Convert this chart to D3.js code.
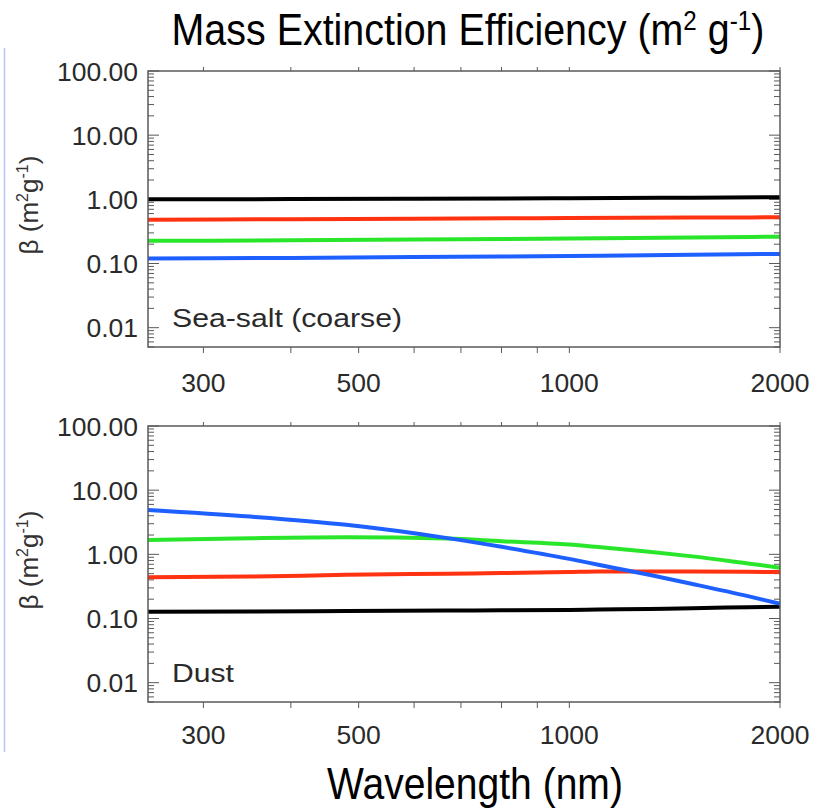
<!DOCTYPE html>
<html>
<head>
<meta charset="utf-8">
<script src="https://cdn.jsdelivr.net/npm/d3@7"></script>
<style>
  html, body { margin: 0; padding: 0; background: #fff; }
  svg { display: block; }
  text { font-family: Arial, "Liberation Sans", Helvetica, sans-serif; }
</style>
</head>
<body>
<svg id="chart" width="816" height="812"></svg>
<script>
// ---------------- data ----------------
const xTickValues = [300, 400, 500, 600, 700, 800, 900, 1000, 2000];
const xTickLabels = [300, 500, 1000, 2000];
const yTickLabels = [0.01, 0.1, 1, 10, 100];
const seriesColors = ["#000000", "#ff3311", "#2ae62a", "#1e60ff"];

// Sea-salt (coarse)
const seaSaltWl    = [250, 400, 600, 1000, 1500, 2000];
const seaSaltBlack = [1.00, 1.01, 1.02, 1.04, 1.06, 1.08];
const seaSaltRed   = [0.48, 0.49, 0.50, 0.51, 0.52, 0.525];
const seaSaltGreen = [0.226, 0.230, 0.237, 0.245, 0.255, 0.262];
const seaSaltBlue  = [0.120, 0.122, 0.126, 0.131, 0.137, 0.141];

// Dust
const dustWl    = [250, 350, 480, 670, 800, 1000, 1100, 1300, 1500, 1800, 2000];
const dustBlack = [0.128, 0.129, 0.131, 0.133, 0.134, 0.136, 0.138, 0.141, 0.145, 0.150, 0.153];
const dustRed   = [0.44, 0.45, 0.48, 0.50, 0.51, 0.53, 0.54, 0.54, 0.54, 0.535, 0.53];
const dustGreen = [1.67, 1.78, 1.84, 1.76, 1.60, 1.42, 1.30, 1.10, 0.93, 0.72, 0.62];
const dustBlue  = [4.91, 3.88, 2.89, 1.79, 1.31, 0.85, 0.69, 0.48, 0.345, 0.223, 0.17];

const panels = [
  { label: "Sea-salt (coarse)", labelW: 230, wl: seaSaltWl, series: [seaSaltBlack, seaSaltRed, seaSaltGreen, seaSaltBlue], top: 71, bottom: 347, tickDy: 45 },
  { label: "Dust", labelW: 62, wl: dustWl, series: [dustBlack, dustRed, dustGreen, dustBlue], top: 426, bottom: 702, tickDy: 42 }
];

// ---------------- drawing ----------------
const svg = d3.select("#chart");
const X0 = 148, X1 = 780;
const axisColor = "#5a5a5a";
const textColor = "#2a2a2a";

// helper: horizontally condensed/stretched text centred on cx
function fitText(parent, cx, cy, width, build) {
  const g = parent.append("g");
  const t = g.append("text").attr("x", 0).attr("y", 0);
  build(t);
  const w = t.node().getBBox().width;
  g.attr("transform", `translate(${cx - width / 2},${cy}) scale(${width / w},1)`);
  return g;
}

// left decorative slide border
svg.append("line").attr("x1", 4.5).attr("x2", 4.5).attr("y1", 48).attr("y2", 752)
  .attr("stroke", "#b8c4ff").attr("stroke-width", 1.5);

const x = d3.scaleLog().domain([250, 2000]).range([X0, X1]);

panels.forEach(p => {
  const y = d3.scaleLog().domain([0.005, 100]).range([p.bottom, p.top]);
  const g = svg.append("g");

  // minor/major y ticks (inward, both sides)
  const yTicks = [];
  for (let e = -3; e <= 1; e++) {
    for (let m = 1; m <= 9; m++) {
      const v = m * Math.pow(10, e);
      if (v >= 0.005 - 1e-9 && v <= 100 + 1e-9) yTicks.push({ v, major: m === 1 });
    }
  }
  yTicks.push({ v: 100, major: true });
  yTicks.forEach(t => {
    const yy = y(t.v);
    const len = t.major ? 11 : 6;
    g.append("line").attr("x1", X0).attr("x2", X0 + len).attr("y1", yy).attr("y2", yy)
      .attr("stroke", axisColor).attr("stroke-width", 1);
    g.append("line").attr("x1", X1).attr("x2", X1 - len).attr("y1", yy).attr("y2", yy)
      .attr("stroke", axisColor).attr("stroke-width", 1);
  });

  // x ticks (outward) bottom and top
  xTickValues.forEach(v => {
    g.append("line").attr("x1", x(v)).attr("x2", x(v)).attr("y1", p.bottom).attr("y2", p.bottom + 6)
      .attr("stroke", axisColor).attr("stroke-width", 1);
    g.append("line").attr("x1", x(v)).attr("x2", x(v)).attr("y1", p.top).attr("y2", p.top - 4)
      .attr("stroke", axisColor).attr("stroke-width", 1);
  });

  // series lines
  const line = d3.line().x(d => x(d[0])).y(d => y(d[1])).curve(d3.curveMonotoneX);
  p.series.forEach((vals, i) => {
    g.append("path").datum(p.wl.map((w, k) => [w, vals[k]]))
      .attr("d", line).attr("fill", "none")
      .attr("stroke", seriesColors[i]).attr("stroke-width", 4)
      .attr("stroke-linecap", "butt");
  });

  // box
  g.append("rect").attr("x", X0).attr("y", p.top).attr("width", X1 - X0).attr("height", p.bottom - p.top)
    .attr("fill", "none").attr("stroke", axisColor).attr("stroke-width", 1.5);

  // y tick labels
  yTickLabels.forEach(v => {
    g.append("text").attr("x", 138).attr("y", y(v)).attr("dy", "0.36em")
      .attr("text-anchor", "end").attr("font-size", 26.5).attr("fill", textColor)
      .text(d3.format(".2f")(v));
  });

  // x tick labels
  xTickLabels.forEach(v => {
    g.append("text").attr("x", x(v)).attr("y", p.bottom + p.tickDy)
      .attr("text-anchor", "middle").attr("font-size", 26.5).attr("fill", textColor)
      .text(v);
  });

  // panel label
  g.append("text").attr("x", 172).attr("y", p.bottom - 20)
    .attr("font-size", 26).attr("fill", textColor)
    .attr("textLength", p.labelW).attr("lengthAdjust", "spacingAndGlyphs")
    .text(p.label);

  // y-axis title
  const cy = (p.top + p.bottom) / 2 - 4;
  const yt = g.append("text").attr("transform", `translate(38,${cy}) rotate(-90)`)
    .attr("text-anchor", "middle").attr("font-size", 26).attr("fill", "#333");
  yt.append("tspan").text("β (m");
  yt.append("tspan").attr("dy", -10).attr("font-size", 16).text("2");
  yt.append("tspan").attr("dy", 10).text("g");
  yt.append("tspan").attr("dy", -10).attr("font-size", 16).text("-1");
  yt.append("tspan").attr("dy", 10).text(")");
});

// title
fitText(svg, 468, 45, 593, t => {
  t.attr("font-size", 44).attr("fill", "#000");
  t.append("tspan").text("Mass Extinction Efficiency (m");
  t.append("tspan").attr("dy", -15).attr("font-size", 27).text("2");
  t.append("tspan").attr("dy", 15).text(" g");
  t.append("tspan").attr("dy", -15).attr("font-size", 27).text("-1");
  t.append("tspan").attr("dy", 15).text(")");
});

// x-axis title
fitText(svg, 475, 799, 296, t => {
  t.attr("font-size", 45).attr("fill", "#000").text("Wavelength (nm)");
});
</script>
</body>
</html>
